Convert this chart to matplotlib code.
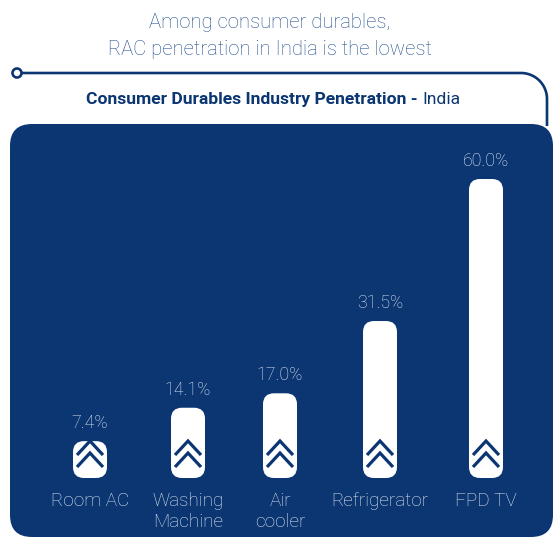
import numpy as np
import matplotlib
matplotlib.use("Agg")
import matplotlib.pyplot as plt
from matplotlib.patches import FancyBboxPatch, Circle

# ---- data ----
categories = ["Room AC", "Washing\nMachine", "Air\ncooler", "Refrigerator", "FPD TV"]
penetration = [7.4, 14.1, 17.0, 31.5, 60.0]
title_lines = "Among consumer durables,\nRAC penetration in India is the lowest"
subtitle_bold = "Consumer Durables Industry Penetration - "
subtitle_reg = "India"

# ---- layout / style ----
W, H = 555, 538
xpos = [90, 188, 280, 380, 486]      # bar centres (px)
bar_w = 34
base_px = 478                          # baseline of bars (px from top)
top_px = 179                           # pixel position of 60 %
NAVY = "#0b3672"
TITLE_C = "#24508f"
LIGHT = "#e2e8f2"
FONT = "Roboto"

fig = plt.figure(figsize=(W / 100, H / 100), dpi=100)
fig.patch.set_facecolor("white")

bg = fig.add_axes([0, 0, 1, 1])
bg.set_xlim(0, W)
bg.set_ylim(H, 0)
bg.axis("off")

# panel
panel = FancyBboxPatch((10, 124), 543, 413, boxstyle="round,pad=0,rounding_size=22",
                       fc=NAVY, ec="none")
bg.add_patch(panel)

# connector line
r = 26
t = np.linspace(-np.pi / 2, 0, 30)
arc_x = 547 - r + r * np.cos(t)
arc_y = 73 + r + r * np.sin(t)
lx = np.concatenate([[22], arc_x, [547]])
ly = np.concatenate([[73], arc_y, [126]])
bg.plot(lx, ly, color=NAVY, lw=1.9, solid_capstyle="butt")
bg.add_patch(Circle((17, 73), 4.5, fc="white", ec=NAVY, lw=1.9))

# titles
for i, line in enumerate(title_lines.split("\n")):
    bg.text(270, 28 + 27 * i, line, ha="center", va="baseline", fontsize=14.6,
            color=TITLE_C, family=FONT, fontweight="light")
t1 = bg.text(86, 104, subtitle_bold, ha="left", va="baseline", fontsize=12.6,
             color=NAVY, family=FONT, fontweight="bold")
bg.annotate(subtitle_reg, xy=(1, 0), xycoords=t1, ha="left", va="bottom",
            fontsize=12.6, color=NAVY, family=FONT)

# data axes
ax = fig.add_axes([0, (H - base_px) / H, 1, (base_px - top_px) / H])
ax.set_xlim(0, W)
ax.set_ylim(0, 60)
ax.axis("off")
ax.patch.set_alpha(0)

pct_per_px = 60 / (base_px - top_px)
pt_per_px = 72 / 100

for x, v, lab in zip(xpos, penetration, categories):
    bar = FancyBboxPatch((x - bar_w / 2, 0), bar_w, v,
                         boxstyle="round,pad=0,rounding_size=11",
                         mutation_aspect=pct_per_px,
                         fc="white", ec="none", clip_on=False)
    ax.add_patch(bar)
    # double chevron
    for apex, arm in ((37, 23), (25, 11)):
        ax.plot([x - 13, x, x + 13],
                [arm * pct_per_px, apex * pct_per_px, arm * pct_per_px],
                color=NAVY, lw=2.3, solid_joinstyle="miter", solid_capstyle="butt",
                clip_on=False)
    ax.annotate(f"{v:.1f}%", xy=(x, v), xytext=(0, 13 * pt_per_px),
                textcoords="offset points", ha="center", va="baseline",
                fontsize=12.8, color=LIGHT, family=FONT, fontweight="light")
    for j, part in enumerate(lab.split("\n")):
        ax.annotate(part, xy=(x, 0), xytext=(0, -(28 + 21 * j) * pt_per_px),
                    textcoords="offset points", ha="center", va="baseline",
                    fontsize=13.6, color=LIGHT, family=FONT, fontweight="light")

fig.savefig("out.png", dpi=100, facecolor="white")
